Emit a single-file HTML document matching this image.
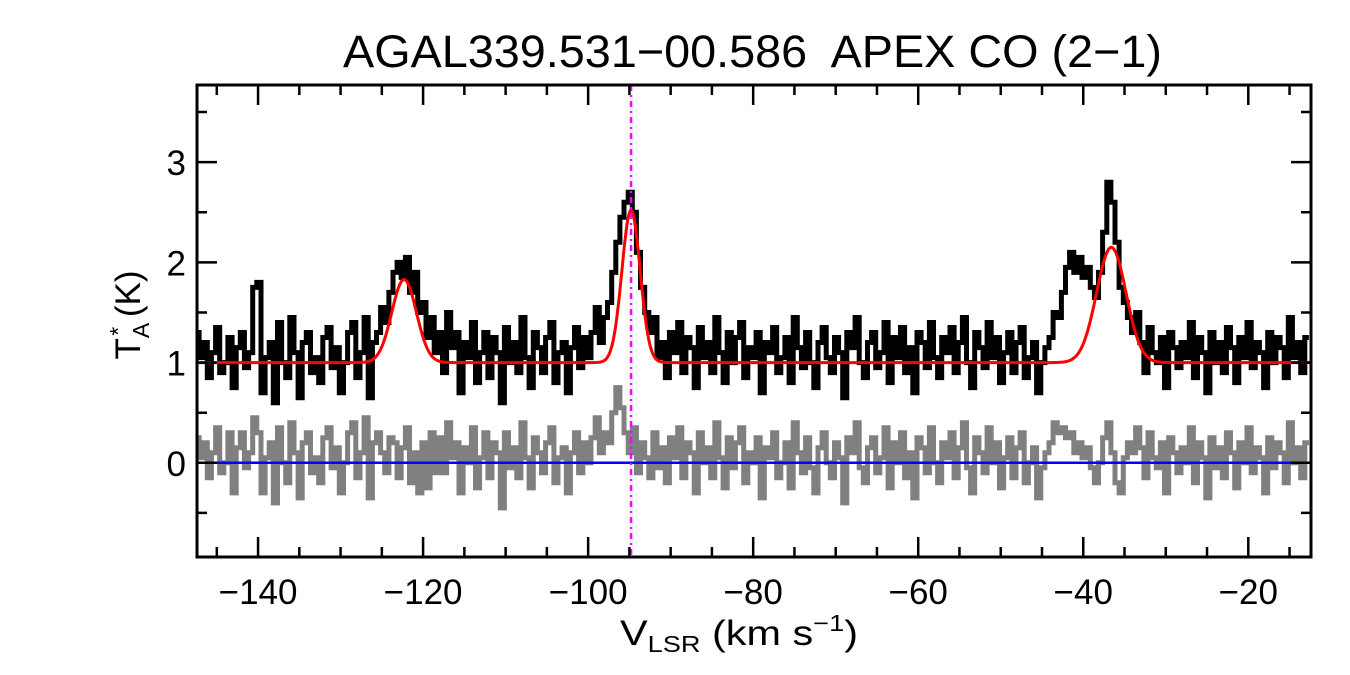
<!DOCTYPE html>
<html><head><meta charset="utf-8"><style>
body{margin:0;background:#fff;}
svg{display:block;font-family:"Liberation Sans",sans-serif;}
</style></head><body>
<svg id="chart" width="1350" height="675" viewBox="0 0 1350 675">
<text x="343" y="67" font-size="45" textLength="819" lengthAdjust="spacingAndGlyphs" xml:space="preserve">AGAL339.531−00.586  APEX CO (2−1)</text>
<g id="plot"></g>
<text x="620" y="645" font-size="35" textLength="238" lengthAdjust="spacingAndGlyphs">V<tspan font-size="23" dy="7">LSR</tspan><tspan dy="-7"> (km s</tspan><tspan font-size="23" dy="-14">−1</tspan><tspan dy="14">)</tspan></text>
<text transform="translate(140,315) rotate(-90)" font-size="35" text-anchor="middle">T<tspan font-size="23" dy="9">A</tspan><tspan font-size="23" dx="-13" dy="-23">*</tspan><tspan dy="14"> (K)</tspan></text>
</svg>
<script>
const v0 = -147.4, dv = 0.5;
const spectrum = [1.3,1.05,1.2,0.85,1.1,1.35,0.9,1.0,1.25,0.75,
1.15,1.3,0.95,1.1,1.75,1.8,0.7,1.05,1.2,0.6,
1.4,1.0,0.85,1.45,1.1,0.65,1.2,1.3,0.9,1.05,
0.8,1.25,1.35,0.95,1.15,0.7,1.0,1.3,1.4,0.85,
1.1,1.45,0.65,1.2,1.3,1.55,1.4,1.7,1.9,2.0,
1.85,2.05,1.7,1.9,1.5,1.6,1.25,1.45,1.1,1.3,
0.9,1.5,1.15,1.3,0.7,1.2,1.05,1.4,0.8,1.1,
1.3,0.85,1.25,1.1,0.6,1.35,1.0,1.2,0.9,1.45,
1.05,0.75,1.3,1.15,0.9,1.25,1.4,0.8,1.1,1.2,
0.7,1.15,1.35,0.95,1.25,1.05,1.3,1.55,1.2,1.45,
1.6,1.9,2.2,2.45,2.6,2.7,2.5,2.1,1.75,1.5,
1.3,1.45,1.05,1.2,0.85,1.3,1.1,1.4,0.9,1.25,
1.15,0.75,1.35,1.05,1.2,0.9,1.45,1.1,0.8,1.3,
1.0,1.25,1.4,0.85,1.15,1.05,1.3,0.7,1.2,1.1,
1.35,0.9,1.05,1.25,0.8,1.45,1.15,0.95,1.3,1.0,
0.75,1.2,1.35,1.05,0.9,1.25,1.1,0.65,1.3,1.15,
1.45,1.0,0.85,1.2,1.3,0.95,1.1,1.4,0.8,1.25,
1.05,1.35,0.9,1.15,0.7,1.3,1.2,0.95,1.4,1.05,
0.85,1.25,1.1,1.35,0.9,1.2,1.45,1.0,0.75,1.3,
1.15,0.95,1.4,1.05,1.25,0.8,1.1,1.3,0.9,1.2,
1.35,0.85,1.05,1.2,0.7,1.0,1.15,1.25,1.5,1.45,
1.7,1.95,2.1,1.9,2.05,1.85,1.95,1.75,1.65,1.9,
2.3,2.8,2.6,2.2,1.75,1.6,1.45,1.3,1.5,1.2,
0.9,1.35,1.1,1.0,1.25,0.75,1.3,1.15,0.95,1.2,
1.05,1.4,0.85,1.25,1.1,0.7,1.3,1.0,1.2,0.9,
1.35,1.15,0.8,1.25,1.05,1.4,0.95,1.2,1.1,0.75,
1.3,1.0,1.25,1.15,0.85,1.45,1.05,1.2,0.9,1.25];
const residual = [0.25,0.05,0.2,-0.15,0.1,0.35,-0.1,0.0,0.3,-0.3,
0.15,0.3,-0.05,0.1,0.45,0.3,-0.3,0.05,0.2,-0.4,
0.35,0.0,-0.2,0.4,0.1,-0.35,0.2,0.3,-0.1,0.05,
-0.2,0.25,0.35,-0.05,0.15,-0.3,0.0,0.3,0.4,-0.15,
0.1,0.45,-0.35,0.2,0.3,0.1,-0.1,0.25,0.2,-0.15,
0.15,0.35,-0.2,0.1,-0.3,0.2,-0.25,0.3,-0.1,0.25,
-0.1,0.4,0.05,0.2,-0.3,0.15,0.0,0.35,-0.25,0.05,
0.3,-0.15,0.2,0.1,-0.45,0.3,-0.05,0.15,-0.15,0.4,
0.05,-0.25,0.25,0.1,-0.1,0.2,0.35,-0.2,0.05,0.15,
-0.3,0.1,0.3,-0.1,0.2,0.0,0.25,0.45,0.1,0.3,
0.2,0.5,0.75,0.55,0.3,0.1,0.35,-0.1,0.2,0.05,
-0.15,0.3,-0.05,0.15,-0.2,0.25,0.05,0.35,-0.15,0.2,
0.1,-0.3,0.3,0.0,0.15,-0.15,0.4,0.05,-0.25,0.25,
-0.05,0.2,0.35,-0.2,0.1,0.0,0.25,-0.35,0.15,0.05,
0.3,-0.15,0.0,0.2,-0.25,0.4,0.1,-0.1,0.25,-0.05,
-0.3,0.15,0.3,0.0,-0.15,0.2,0.05,-0.4,0.25,0.1,
0.4,-0.05,-0.2,0.15,0.25,-0.1,0.05,0.35,-0.25,0.2,
0.0,0.3,-0.15,0.1,-0.35,0.25,0.15,-0.1,0.35,0.0,
-0.2,0.2,0.05,0.3,-0.15,0.15,0.4,-0.05,-0.3,0.25,
0.1,-0.1,0.35,0.0,0.2,-0.25,0.05,0.25,-0.15,0.15,
0.3,-0.2,0.0,0.15,-0.35,-0.05,0.1,0.2,0.4,0.3,
0.35,0.25,0.3,0.1,0.2,0.05,0.15,-0.05,-0.2,0.0,
0.25,0.4,0.1,-0.2,-0.3,0.05,0.2,0.1,0.35,0.15,
-0.15,0.3,0.05,-0.05,0.2,-0.3,0.25,0.1,-0.1,0.15,
0.0,0.35,-0.2,0.2,0.05,-0.35,0.25,-0.05,0.15,-0.15,
0.3,0.1,-0.25,0.2,0.0,0.35,-0.1,0.15,0.05,-0.3,
0.25,-0.05,0.2,0.1,-0.2,0.4,0.0,0.15,-0.15,0.2];
const fitBaseline = 1.0;
const fitCenters = [-122.3, -94.8, -36.6];
const fitAmps = [0.83, 1.52, 1.15];
const fitFwhm = [3.5, 2.6, 4.2];
const markerVelocity = -94.8;
const xTicks = [-140,-120,-100,-80,-60,-40,-20];
const yTicks = [0,1,2,3];

const L=197,R=1311,T=85,B=557, xmin=-147.4,xmax=-12.4,ymin=-0.94,ymax=3.77;
const X=v=>L+(v-xmin)/(xmax-xmin)*(R-L);
const Y=t=>B-(t-ymin)/(ymax-ymin)*(B-T);
const NS='http://www.w3.org/2000/svg';
const g=document.getElementById('plot');
function mk(tag,attrs){const e=document.createElementNS(NS,tag);for(const k in attrs)e.setAttribute(k,attrs[k]);g.appendChild(e);return e;}
function fit(v){let s=fitBaseline;for(let k=0;k<fitCenters.length;k++){const sg=fitFwhm[k]/2.3548;s+=fitAmps[k]*Math.exp(-0.5*((v-fitCenters[k])/sg)**2);}return s;}
function stepPath(vals){let d='';vals.forEach((y,i)=>{const c=v0+dv*i;const xa=X(c-dv/2),xb=X(c+dv/2);d+=(i?'L':'M')+Math.max(L,xa).toFixed(1)+','+Y(y).toFixed(1)+'L'+Math.min(R,xb).toFixed(1)+','+Y(y).toFixed(1);});return d;}
const clip=mk('clipPath',{id:'pc'});const cr=document.createElementNS(NS,'rect');cr.setAttribute('x',L);cr.setAttribute('y',T);cr.setAttribute('width',R-L);cr.setAttribute('height',B-T);clip.appendChild(cr);
let p=mk('path',{d:stepPath(spectrum),fill:'none',stroke:'#000','stroke-width':5,'clip-path':'url(#pc)'});


p=mk('path',{d:stepPath(residual),fill:'none',stroke:'#808080','stroke-width':5,'clip-path':'url(#pc)'});


p=mk('line',{x1:L,x2:R,y1:Y(0),y2:Y(0),stroke:'#0000ff','stroke-width':2.5});


let fd='';for(let v=xmin;v<=xmax;v+=0.1){fd+=(fd?'L':'M')+X(v).toFixed(1)+','+Y(fit(v)).toFixed(1);}
p=mk('path',{d:fd,fill:'none',stroke:'#ff0000','stroke-width':3});


p=mk('line',{x1:X(markerVelocity),x2:X(markerVelocity),y1:T,y2:B,stroke:'#ff00ff','stroke-width':2.5,'stroke-dasharray':'6,4,2,4'});


p=mk('rect',{x:L,y:T,width:R-L,height:B-T,fill:'none',stroke:'#000','stroke-width':3});


for(let v=-145;v<=-15;v+=5){const maj=v%20===0;const x=X(v),len=maj?20:10;
 p=mk('path',{d:`M${x},${B}v${-len}M${x},${T}v${len}`,stroke:'#000','stroke-width':2.5});
 
 }
xTicks.forEach(v=>{const t=mk('text',{x:X(v),y:604,'font-size':35,'text-anchor':'middle'});t.textContent=(v<0?'−':'')+Math.abs(v);
 
 });
for(let y=-0.5;y<=3.5;y+=0.5){const maj=Number.isInteger(y);const yy=Y(y),len=maj?20:10;
 p=mk('path',{d:`M${L},${yy}h${len}M${R},${yy}h${-len}`,stroke:'#000','stroke-width':2.5});
 
 }
yTicks.forEach(y=>{const t=mk('text',{x:186,y:Y(y)+13,'font-size':35,'text-anchor':'end'});t.textContent=y;
 
 });
</script>
</body></html>
